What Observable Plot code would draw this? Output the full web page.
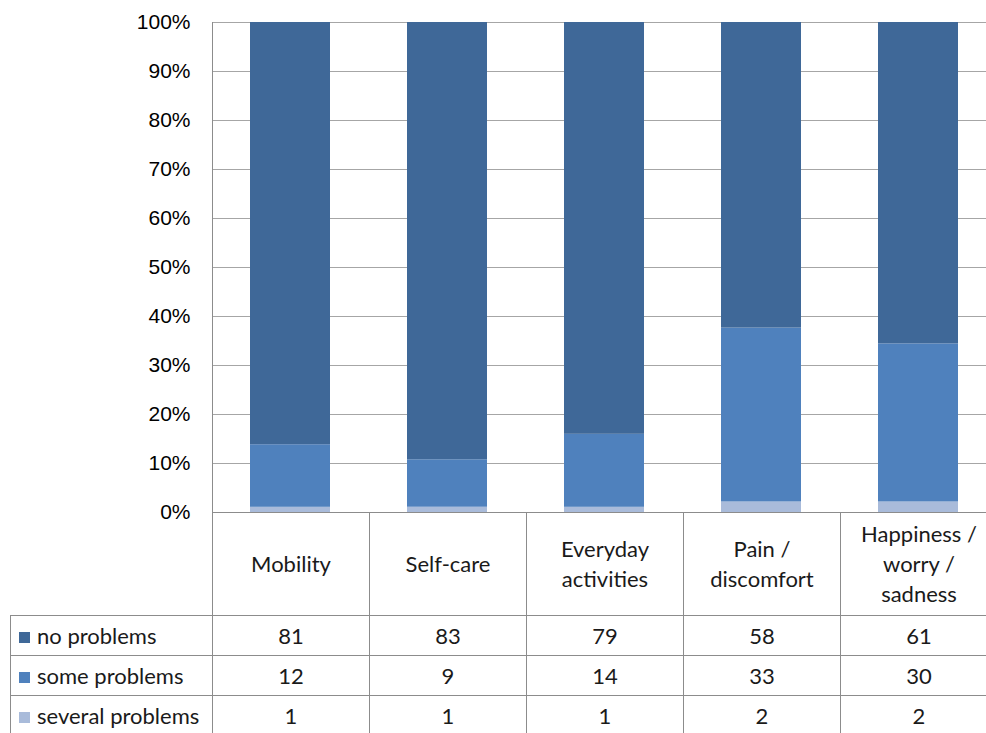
<!DOCTYPE html>
<html>
<head>
<meta charset="utf-8">
<script src="https://cdn.jsdelivr.net/npm/d3@7"></script>
<script src="https://cdn.jsdelivr.net/npm/@observablehq/plot@0.6"></script>
<style>
  html, body { margin: 0; padding: 0; background: #fff; overflow: hidden; width: 986px; height: 733px; }
  #wrap { position: relative; width: 1000px; height: 733px; }
  #chart { position: absolute; left: 0; top: 0; }
  table { position: absolute; left: 10px; top: 512px; border-collapse: collapse; table-layout: fixed;
          font-family: Lato, "Open Sans", sans-serif; font-size: 22px; color: #1a1a1a; }
  td { border: 1px solid #8c8c8c; padding: 0; text-align: center; vertical-align: middle; }
  td.blank { border-top: none; border-left: none; background: transparent; }
  td.lab { text-align: left; padding-left: 8px; white-space: nowrap; font-size: 22px; }
  .sw { display: inline-block; width: 11px; height: 11px; margin-right: 7px; vertical-align: 1px; }
  tr.head td { height: 102px; line-height: 30px; }
  tr.row td { height: 39px; }
</style>
</head>
<body>
<div id="wrap"><div id="chart"></div></div>
<script>
const categories = ["Mobility", "Self-care", "Everyday activities", "Pain / discomfort", "Happiness / worry / sadness"];
const headerLines = [["Mobility"], ["Self-care"], ["Everyday", "activities"], ["Pain /", "discomfort"], ["Happiness /", "worry /", "sadness"]];
const series = ["no problems", "some problems", "several problems"];
const noProblems = [81, 83, 79, 58, 61];
const someProblems = [12, 9, 14, 33, 30];
const severalProblems = [1, 1, 1, 2, 2];
const seriesColors = ["#3f6898", "#4f81bd", "#a9bbda"];
const yTicks = [0, 0.1, 0.2, 0.3, 0.4, 0.5, 0.6, 0.7, 0.8, 0.9, 1];

const valuesBySeries = [noProblems, someProblems, severalProblems];
const data = [];
// bottom-to-top stacking order: several, some, no
[2, 1, 0].forEach(si => {
  categories.forEach((c, ci) => data.push({category: c, series: series[si], value: valuesBySeries[si][ci]}));
});

const chart = Plot.plot({
  width: 997,
  height: 530,
  marginTop: 22,
  marginBottom: 18,
  marginLeft: 212,
  marginRight: 0,
  style: {fontFamily: "'Liberation Sans', Arial, sans-serif", fontSize: "21px", color: "#000", background: "transparent", overflow: "visible"},
  x: {domain: categories, paddingInner: 0.49, paddingOuter: 0.245, axis: null},
  y: {domain: [0, 1], ticks: yTicks, tickFormat: d3.format(".0%"), tickSize: 0, tickPadding: 22, label: null},
  color: {domain: series, range: seriesColors},
  marks: [
    Plot.gridY(yTicks, {stroke: "#a6a6a6", strokeOpacity: 1, strokeWidth: 1}),
    Plot.frame({anchor: "left", stroke: "#8c8c8c", strokeOpacity: 1}),
    Plot.barY(data, Plot.stackY({offset: "normalize", order: null, x: "category", y: "value", fill: "series"})),
    Plot.axisY({ticks: yTicks, tickFormat: d3.format(".0%"), tickSize: 0, tickPadding: 22, label: null, fontSize: 21})
  ]
});
document.getElementById("chart").appendChild(chart);

// data table under the plot
const table = document.createElement("table");
const colW = [202, 157, 157, 157, 157, 157];
const cg = document.createElement("colgroup");
colW.forEach(w => { const c = document.createElement("col"); c.style.width = w + "px"; cg.appendChild(c); });
table.appendChild(cg);
table.style.width = d3.sum(colW) + "px";
const head = document.createElement("tr");
head.className = "head";
const blank = document.createElement("td"); blank.className = "blank"; head.appendChild(blank);
headerLines.forEach(lines => { const td = document.createElement("td"); td.innerHTML = lines.join("<br>"); head.appendChild(td); });
table.appendChild(head);
series.forEach((s, si) => {
  const tr = document.createElement("tr"); tr.className = "row";
  const lab = document.createElement("td"); lab.className = "lab";
  lab.innerHTML = `<span class="sw" style="background:${seriesColors[si]}"></span>${s}`;
  tr.appendChild(lab);
  valuesBySeries[si].forEach(v => { const td = document.createElement("td"); td.textContent = v; tr.appendChild(td); });
  table.appendChild(tr);
});
document.getElementById("wrap").appendChild(table);
</script>
</body>
</html>
